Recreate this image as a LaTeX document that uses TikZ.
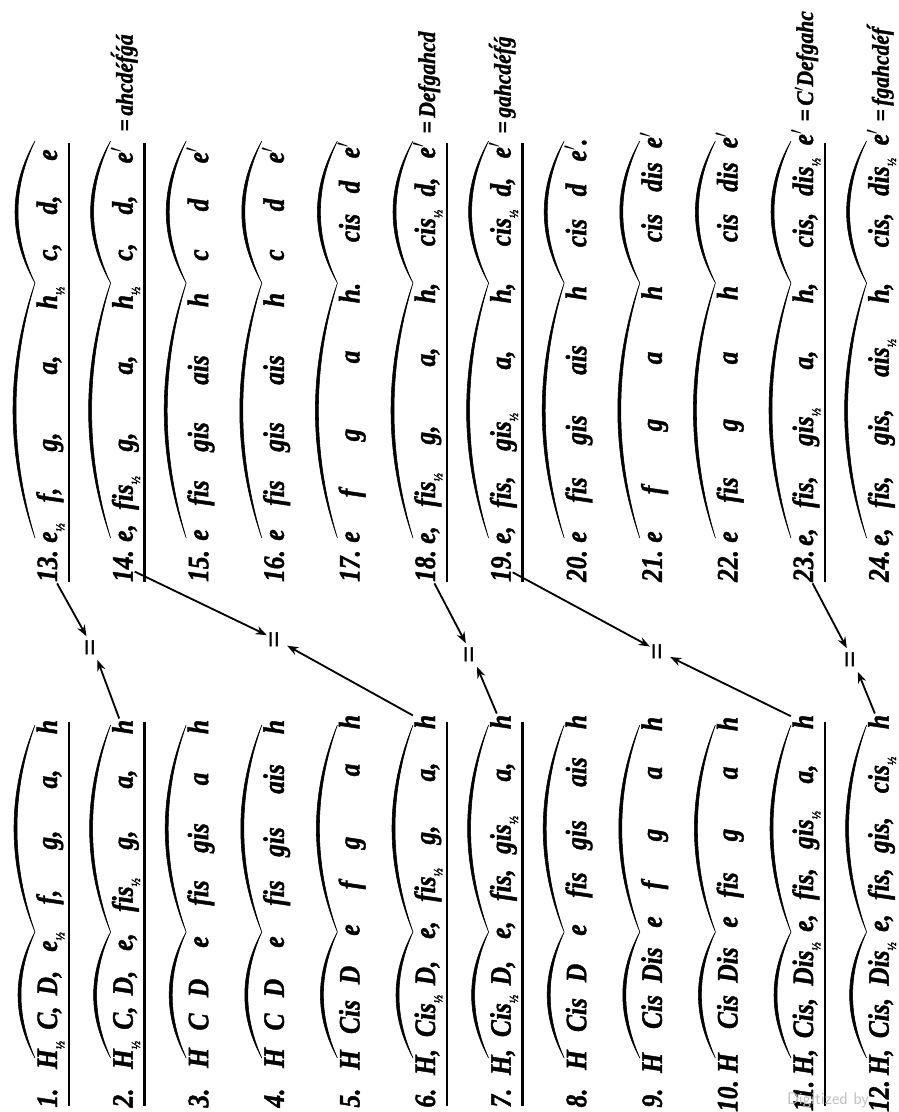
\documentclass[tikz,border=0pt]{standalone}
\usepackage{fontspec}
\usepackage{tikz}
\usetikzlibrary{arrows.meta}

\newfontfamily\notefont{Liberation Serif}[BoldItalicFeatures={FakeBold=1.6}]
\newcommand{\hf}{\raisebox{-.55ex}{\fontsize{9}{9}\selectfont ½}}
% crescent slur: x, y from, y to, bulge
\newcommand{\slur}[4]{%
  \filldraw[line width=.4pt] (#1,#2)
    .. controls ({#1-1.333*#4},{(2*#2+#3)/3}) and ({#1-1.333*#4},{(#2+2*#3)/3}) .. (#1,#3)
    .. controls ({#1-1.333*(#4-3)},{(#2+2*#3)/3}) and ({#1-1.333*(#4-3)},{(2*#2+#3)/3}) .. cycle;}

\begin{document}
\begin{tikzpicture}[x=0.025cm, y=-0.025cm,
  tok/.style={rotate=90, xscale=.86, anchor=base, inner sep=1pt,
    font=\notefont\bfseries\itshape\fontsize{21}{22}\selectfont},
  tail/.style={rotate=90, xscale=.9, anchor=base west, inner sep=1pt,
    font=\notefont\bfseries\itshape\fontsize{17}{18}\selectfont},
  eqs/.style={rotate=90, inner sep=1pt, font=\notefont\bfseries\fontsize{22}{22}\selectfont},
  arr/.style={-{Stealth[length=8pt,width=6pt]}, line width=1.3pt, shorten >=1pt},
  uline/.style={line width=1.8pt},
  wm/.style={font=\sffamily\fontsize{12}{12}\selectfont, text=black!25}]
  \useasboundingbox (0,0) rectangle (899,1112);

  %% the 24 scales, rows 1-12 below, 13-24 above
  \foreach \k/\toks in {
    1/{1./1098, H\hf/1055, {C,}/1018, {D,}/983, e\hf/942, {f,}/897, {g,}/840, {a,}/779, h/727},
    2/{2./1098, H\hf/1055, {C,}/1018, {D,}/983, {e,}/942, fis\hf/895, {g,}/840, {a,}/779, h/727},
    3/{3./1098, H/1058, C/1022, D/988, e/942, fis/893, gis/838, a/779, h/727},
    4/{4./1098, H/1058, C/1022, D/988, e/942, fis/893, gis/842, ais/779, h/727},
    5/{5./1098, H/1060, Cis/1017, D/975, e/930, f/885, g/843, a/770, h/722},
    6/{6./1098, {H,}/1062, Cis\hf/1016, {D,}/973, {e,}/930, fis\hf/885, {g,}/835, {a,}/772, h/722},
    7/{7./1098, {H,}/1062, Cis\hf/1016, {D,}/973, {e,}/930, {fis,}/885, gis\hf/835, {a,}/772, h/722},
    8/{8./1098, H/1060, Cis/1015, D/973, e/930, fis/885, gis/835, ais/772, h/722},
    9/{9./1098, H/1063, Cis/1012, Dis/965, e/922, f/885, g/835, a/773, h/724},
    10/{10./1096, H/1063, Cis/1012, Dis/965, e/922, fis/885, g/835, a/773, h/724},
    11/{11./1096, {H,}/1062, {Cis,}/1018, Dis\hf/964, {e,}/923, {fis,}/884, gis\hf/830, {a,}/774, h/722},
    12/{12./1096, {H,}/1062, {Cis,}/1018, Dis\hf/964, {e,}/923, {fis,}/884, {gis,}/835, cis\hf/775, h/722},
    13/{13./566, e\hf/533, {f,}/495, {g,}/442, {a,}/365, h\hf/298, {c,}/252, {d,}/205, e/155},
    14/{14./566, {e,}/533, fis\hf/493, {g,}/442, {a,}/365, h\hf/298, {c,}/252, {d,}/205, e$'$/155},
    15/{15./566, e/535, fis/493, gis/437, ais/370, h/300, c/255, d/205, e$'$/155},
    16/{16./566, e/535, fis/493, gis/437, ais/370, h/300, c/255, d/205, e$'$/155},
    17/{17./566, e/537, f/493, g/435, a/357, h./293, cis/228, d/187, e$'$/150},
    18/{18./566, {e,}/535, fis\hf/490, {g,}/435, {a,}/357, {h,}/293, cis\hf/228, {d,}/187, e$'$/150},
    19/{19./566, {e,}/535, {fis,}/492, gis\hf/432, {a,}/360, {h,}/293, cis\hf/228, {d,}/187, e$'$/150},
    20/{20./566, e/537, fis/490, gis/430, ais/360, h/293, cis/233, d/190, e$'$./150},
    21/{21./566, e/537, f/490, g/425, a/358, h/293, cis/228, dis/177, e$'$/140},
    22/{22./566, e/537, fis/490, g/425, a/358, h/293, cis/228, dis/177, e$'$/140},
    23/{23./566, {e,}/537, {fis,}/492, gis\hf/427, {a,}/360, {h,}/293, {cis,}/230, dis\hf/177, e$'$/137},
    24/{24./566, {e,}/537, {fis,}/492, {gis,}/427, ais\hf/358, {h,}/293, {cis,}/230, dis\hf/177, e$'$/137}}{
    \pgfmathsetmacro\bx{57+75.6*mod(\k-1,12)}
    \foreach \t/\y [count=\j] in \toks
      \node[tok] (r\k-\j) at (\bx,\y) {\t};
  }

  %% endings after the last note
  \node[tail] (t14) at (132.6,133) {=\,ahcd\'e\'f\'g\'a};
  \node[tail] (t18) at (435.0,135) {=\,Defgahcd};
  \node[tail] (t19) at (510.6,135) {=\,gahcd\'e\'f\'g};
  \node[tail] (t23) at (813.0,123) {=\,C$'$Defgahc};
  \node[tail] (t24) at (888.6,123) {=\,fgahcd\'e\'f};

  %% slurs over each row
  \foreach \c in {1,...,12}{
    \pgfmathsetmacro\ax{57+75.6*(\c-1)-22}
    \slur{\ax}{1058}{932}{17}
    \slur{\ax}{932}{725}{21}
    \slur{\ax}{538}{283}{22}
    \slur{\ax}{283}{141}{20}
  }

  %% rules under some rows
  \foreach \c in {1,2,6,7,11}{
    \pgfmathsetmacro\ux{57+75.6*(\c-1)+12}
    \draw[uline] (\ux,722) -- (\ux,1106);
    \draw[uline] (\ux,143) -- (\ux,582);
  }

  %% equal signs and arrows
  \node[eqs] (eq1) at (93,648) {=};
  \node[eqs] (eq2) at (277,640) {=};
  \node[eqs] (eq3) at (472,655) {=};
  \node[eqs] (eq4) at (660,652) {=};
  \node[eqs] (eq5) at (853,660) {=};
  \foreach \a/\b/\e in {13/2/1, 14/6/2, 18/7/3, 19/11/4, 23/12/5}{
    \draw[arr] (r\a-1) -- (eq\e);
    \draw[arr] (r\b-9) -- (eq\e);
  }

  \node[wm] (wm) at (828,1100) {Digitized by};
\end{tikzpicture}
\end{document}
